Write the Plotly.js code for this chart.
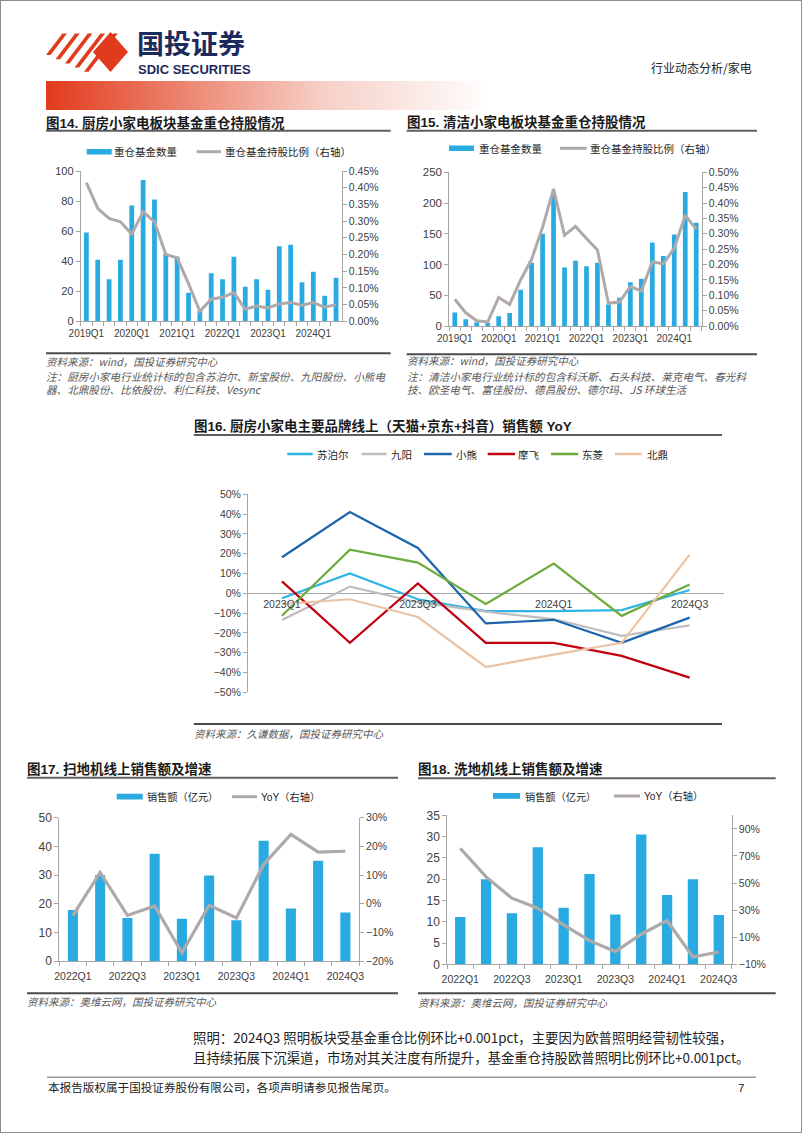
<!DOCTYPE html>
<html><head><meta charset="utf-8">
<script src="https://cdn.plot.ly/plotly-3.0.1.min.js"></script>
<style>
html,body{margin:0;padding:0;background:#fff;}
#page{position:relative;width:802px;height:1133px;overflow:hidden;background:#fff;}
#band{position:absolute;left:46px;top:81px;width:445px;height:29px;background:linear-gradient(to right,#E23A1C 0%,#EC8A75 33%,#F6CFC6 62%,#FFFFFF 100%);}
#chart{position:absolute;left:0;top:0;width:802px;height:1133px;}
#frame{position:absolute;left:0;top:0;width:800px;height:1131px;border:1px solid #8c8c8c;pointer-events:none;}
</style></head><body>
<div id="page"><div id="band"></div><div id="chart"></div><div id="frame"></div></div>
<script>
// ---------------- data ----------------
const quarters19 = ['2019Q1','2019Q2','2019Q3','2019Q4','2020Q1','2020Q2','2020Q3','2020Q4','2021Q1','2021Q2','2021Q3','2021Q4','2022Q1','2022Q2','2022Q3','2022Q4','2023Q1','2023Q2','2023Q3','2023Q4','2024Q1','2024Q2','2024Q3'];
const ticks19 = ['2019Q1','2020Q1','2021Q1','2022Q1','2023Q1','2024Q1'];
const fundCount14 = [59,41,28,41,77,94,81,45,43,19,7,32,28,43,23,28,21,50,51,26,33,17,29];
const holdPct14 = [0.415,0.338,0.308,0.298,0.261,0.328,0.298,0.200,0.190,0.113,0.030,0.066,0.072,0.086,0.036,0.046,0.040,0.052,0.056,0.048,0.056,0.042,0.050];
const fundCount15 = [22,11,6,5,16,21,59,103,150,214,95,106,97,103,35,46,71,77,136,114,149,218,168];
const holdPct15 = [0.087,0.043,0.017,0.013,0.093,0.070,0.150,0.217,0.321,0.446,0.295,0.324,0.285,0.247,0.074,0.078,0.128,0.114,0.209,0.202,0.253,0.360,0.315];

const quarters23 = ['2023Q1','2023Q2','2023Q3','2023Q4','2024Q1','2024Q2','2024Q3'];
const ticks23 = ['2023Q1','2023Q3','2024Q1','2024Q3'];
const brands16 = ['苏泊尔','九阳','小熊','摩飞','东菱','北鼎'];
const yoySupor = [-2.5,10,-3,-9,-9,-8.5,1.7];
const yoyJoyoung = [-13.5,3.4,-4.5,-9.3,-13,-21.5,-16.2];
const yoyBear = [18.2,41,22.9,-15.2,-13.4,-25,-12.3];
const yoyMorphy = [6,-25,5,-25,-25,-31.6,-42.6];
const yoyDonlim = [-11.3,22,15.5,-5.4,15,-11.4,4.5];
const yoyBuydeem = [-5.4,-3,-12,-37.2,-31,-25,19.5];

const quarters22 = ['2022Q1','2022Q2','2022Q3','2022Q4','2023Q1','2023Q2','2023Q3','2023Q4','2024Q1','2024Q2','2024Q3'];
const ticks22 = ['2022Q1','2022Q3','2023Q1','2023Q3','2024Q1','2024Q3'];
const sales17 = [17.8,30,15,37.4,14.7,29.8,14.2,42,18.3,35,16.9];
const yoy17 = [-4.1,10.9,-4.1,-0.8,-17.1,-0.6,-5,13.7,24.2,18,18.3];
const sales18 = [11.1,20,12,27.5,13.3,21.2,11.7,30.5,16.3,20,11.6];
const yoy18 = [75.7,54.5,38.8,31.4,19.1,7.5,-0.6,12.2,22.3,-4.6,-0.9];
const ticks18Right = [-10,10,30,50,70,90];

// ---------------- helpers ----------------
const W=802,H=1133;
const px=x=>x/W, py=y=>1-y/H;
const CJK="'Noto Sans CJK SC','Noto Sans CJK JP',sans-serif";
const LAT="'Liberation Sans',Arial,'Noto Sans CJK SC',sans-serif";
const BAR='#29ABE2', GREY='#B0A9A9', AX='#A6A6A6', TXT='#404040';
const annotations=[], shapes=[];
function txt(t,x,y,size,o={}){
  annotations.push({text:t,x:px(x),y:py(y),xref:'paper',yref:'paper',xanchor:o.xa||'left',yanchor:'middle',showarrow:false,borderpad:0,
    font:{family:o.family||LAT,size:size,color:o.color||'#262626',weight:o.weight||'normal',style:o.style||'normal'}});
}
function hline(x0,x1,y,color,w){shapes.push({type:'line',xref:'paper',yref:'paper',x0:px(x0),x1:px(x1),y0:py(y),y1:py(y),line:{color:color,width:w}});}
function rect(x0,y0,x1,y1,fill){shapes.push({type:'rect',xref:'paper',yref:'paper',x0:px(x0),x1:px(x1),y0:py(y1),y1:py(y0),fillcolor:fill,line:{width:0}});}
function poly(pts,fill){
  const d=pts.map((p,i)=>(i?'L':'M')+px(p[0]).toFixed(5)+','+py(p[1]).toFixed(5)).join(' ')+' Z';
  shapes.push({type:'path',xref:'paper',yref:'paper',path:d,fillcolor:fill,line:{width:0}});
}
const base={showgrid:false,zeroline:false,fixedrange:true,showline:true,linecolor:AX,linewidth:1,ticks:'outside',ticklen:4,tickcolor:AX,tickwidth:1};
function catX(x0,x1,anchor,cats,labels,size,standoff){
  return Object.assign({},base,{domain:[px(x0),px(x1)],anchor:anchor,type:'category',tickson:'boundaries',tickmode:'array',
    tickvals:cats,ticktext:cats.map(c=>labels.includes(c)?c:''),range:[-0.5,cats.length-0.5],tickangle:0,ticklabelstandoff:standoff,
    tickfont:{family:LAT,size:size,color:TXT}});
}
function yAx(yb,yt,anchor,range,dtick,size,extra){
  return Object.assign({},base,{domain:[py(yb),py(yt)],anchor:anchor,range:range,dtick:dtick,tick0:0,
    tickfont:{family:LAT,size:size,color:TXT}},extra||{});
}

// ---------------- header ----------------
const RED='#E23A1C';
poly([[93,52],[110.5,32],[128,52],[110.5,72]],RED);
for(let k=0;k<5;k++){
  const bx=46+9.5*k, by=55+4.2*k, dy=by-33.5, dx=dy*16/21;
  poly([[bx,by],[bx+4.6,by],[bx+4.6+dx,by-dy],[bx+dx,by-dy]],RED);
}
txt('国投证券',136,42.5,27,{family:CJK,weight:'bold',color:'#1D2A5C'});
txt('SDIC SECURITIES',137,69.5,13,{family:LAT,weight:'bold',color:'#1D2A5C'});
txt('行业动态分析/家电',650,68,12,{family:CJK,color:'#222'});

// ---------------- chart 14 ----------------
txt('图14. 厨房小家电板块基金重仓持股情况',45,122.7,13.5,{weight:'bold',color:'#1a1a1a'});
hline(46,390.7,130.7,'#5E5E5E',2);
rect(86.7,149,111.7,154.5,BAR); txt('重仓基金数量',113,151.7,10.5,{family:CJK});
hline(196.7,221,151.7,GREY,3); txt('重仓基金持股比例（右轴）',224,151.7,10.5,{family:CJK});
hline(46,390.7,353.3,'#4A4A4A',2);
txt('资料来源：wind，国投证券研究中心',45,361.7,10.5,{family:CJK,style:'italic',color:'#595959'});
txt('注：厨房小家电行业统计标的包含苏泊尔、新宝股份、九阳股份、小熊电',45,376.7,10.6,{family:CJK,style:'italic',color:'#595959'});
txt('器、北鼎股份、比依股份、利仁科技、Vesync',45,389.3,10.6,{family:CJK,style:'italic',color:'#595959'});

// ---------------- chart 15 ----------------
txt('图15. 清洁小家电板块基金重仓持股情况',405.5,121.7,13.5,{weight:'bold',color:'#1a1a1a'});
hline(406.7,757,130.7,'#5E5E5E',2);
rect(449,145.5,474,151,BAR); txt('重仓基金数量',477.5,148.3,10.5,{family:CJK});
hline(560,586.7,148.3,GREY,3); txt('重仓基金持股比例（右轴）',589,148.3,10.5,{family:CJK});
hline(406.7,757,354.3,'#4A4A4A',2);
txt('资料来源：wind，国投证券研究中心',405.5,360.7,10.5,{family:CJK,style:'italic',color:'#595959'});
txt('注：清洁小家电行业统计标的包含科沃斯、石头科技、莱克电气、春光科',405.5,376.7,10.6,{family:CJK,style:'italic',color:'#595959'});
txt('技、欧圣电气、富佳股份、德昌股份、德尔玛、JS 环球生活',405.5,389.8,10.6,{family:CJK,style:'italic',color:'#595959'});

// ---------------- chart 16 ----------------
txt('图16. 厨房小家电主要品牌线上（天猫+京东+抖音）销售额 YoY',192.5,426,13.5,{weight:'bold',color:'#1a1a1a'});
hline(193.8,722,435,'#5E5E5E',2);
const brandColors=['#2FB4E6','#BEBEBE','#1C64AC','#C0000F','#6CAB3C','#EBC3A3'];
const legX16=[[287.3,312.7,316],[361.7,386.7,390],[424,451.7,454.5],[487.7,515,517],[551,578.3,581],[615,641.7,645.5]];
brands16.forEach((b,i)=>{hline(legX16[i][0],legX16[i][1],454,brandColors[i],2.5);txt(b,legX16[i][2],454,10.5,{family:CJK});});
hline(193.8,722,724,'#4A4A4A',2);
txt('资料来源：久谦数据，国投证券研究中心',192.5,733.3,10.5,{family:CJK,style:'italic',color:'#595959'});

// ---------------- chart 17 ----------------
txt('图17. 扫地机线上销售额及增速',26,769,13.5,{weight:'bold',color:'#1a1a1a'});
hline(27,398,777.7,'#5E5E5E',2);
rect(116.7,793.7,142.7,799.5,BAR); txt('销售额（亿元）',145.5,796.7,10.2,{family:CJK});
hline(232,257,796.7,GREY,3); txt('YoY（右轴）',259.5,796.7,10.2,{family:LAT});
hline(27,398,993.3,'#4A4A4A',2);
txt('资料来源：奥维云网，国投证券研究中心',26,1001.7,10.5,{family:CJK,style:'italic',color:'#595959'});

// ---------------- chart 18 ----------------
txt('图18. 洗地机线上销售额及增速',417,769,13.5,{weight:'bold',color:'#1a1a1a'});
hline(418,775.7,778.3,'#5E5E5E',2);
rect(493,793,520,798.8,BAR); txt('销售额（亿元）',523.5,796,10.2,{family:CJK});
hline(614,640,796,GREY,3); txt('YoY（右轴）',642.5,796,10.2,{family:LAT});
hline(418,775.7,993.3,'#4A4A4A',2);
txt('资料来源：奥维云网，国投证券研究中心',417,1002,10.5,{family:CJK,style:'italic',color:'#595959'});

// ---------------- text & footer ----------------
txt('照明：2024Q3 照明板块受基金重仓比例环比+0.001pct，主要因为欧普照明经营韧性较强，',192,1037,13.4,{family:CJK,color:'#222'});
txt('且持续拓展下沉渠道，市场对其关注度有所提升，基金重仓持股欧普照明比例环比+0.001pct。',192,1057,13.4,{family:CJK,color:'#222'});
hline(47,756,1077.3,'#9A9A9A',1.5);
txt('本报告版权属于国投证券股份有限公司，各项声明请参见报告尾页。',46.5,1087,11.6,{family:CJK,color:'#222'});
txt('7',741,1087,11.6,{family:LAT,color:'#222',xa:'center'});

// ---------------- traces ----------------
const traces=[
  {type:'bar',x:quarters19,y:fundCount14,xaxis:'x',yaxis:'y',marker:{color:BAR},width:0.42,name:'重仓基金数量'},
  {type:'scatter',mode:'lines',x:quarters19,y:holdPct14,xaxis:'x',yaxis:'y2',line:{color:GREY,width:3},name:'重仓基金持股比例（右轴）'},
  {type:'bar',x:quarters19,y:fundCount15,xaxis:'x2',yaxis:'y3',marker:{color:BAR},width:0.43,name:'重仓基金数量'},
  {type:'scatter',mode:'lines',x:quarters19,y:holdPct15,xaxis:'x2',yaxis:'y4',line:{color:GREY,width:3},name:'重仓基金持股比例（右轴）'}
];
[yoySupor,yoyJoyoung,yoyBear,yoyMorphy,yoyDonlim,yoyBuydeem].forEach((s,i)=>{
  traces.push({type:'scatter',mode:'lines',x:quarters23,y:s,xaxis:'x3',yaxis:'y5',line:{color:brandColors[i],width:2.2},name:brands16[i]});
});
traces.push(
  {type:'bar',x:quarters22,y:sales17,xaxis:'x4',yaxis:'y6',marker:{color:BAR},width:0.37,name:'销售额（亿元）'},
  {type:'scatter',mode:'lines',x:quarters22,y:yoy17,xaxis:'x4',yaxis:'y7',line:{color:GREY,width:3.2},name:'YoY（右轴）'},
  {type:'bar',x:quarters22,y:sales18,xaxis:'x5',yaxis:'y8',marker:{color:BAR},width:0.4,name:'销售额（亿元）'},
  {type:'scatter',mode:'lines',x:quarters22,y:yoy18,xaxis:'x5',yaxis:'y9',line:{color:GREY,width:3.2},name:'YoY（右轴）'}
);

const zero16 = (py(692.3)+py(494.3))/2;
const layout={
  width:W,height:H,margin:{l:0,r:0,t:0,b:0},autosize:false,showlegend:false,
  paper_bgcolor:'rgba(0,0,0,0)',plot_bgcolor:'rgba(0,0,0,0)',
  xaxis:catX(80.7,341.7,'y',quarters19,ticks19,10,3),
  yaxis:yAx(321.3,171,'x',[0,100],20,11),
  yaxis2:yAx(321.3,171,'x',[0,0.45],0.05,10.5,{overlaying:'y',side:'right',tickformat:'.2f',ticksuffix:'%'}),
  xaxis2:catX(449.3,701.7,'y3',quarters19,ticks19,10,3),
  yaxis3:yAx(326,172.3,'x2',[0,250],50,11.5),
  yaxis4:yAx(326,172.3,'x2',[0,0.5],0.05,10.5,{overlaying:'y3',side:'right',tickformat:'.2f',ticksuffix:'%'}),
  xaxis3:{domain:[px(248),px(723.6)],anchor:'free',position:zero16,type:'category',range:[-0.5,6.5],showline:false,ticks:'',
    tickmode:'array',tickvals:ticks23,ticktext:ticks23,tickangle:0,showgrid:false,zeroline:false,fixedrange:true,ticklabelstandoff:3,
    tickfont:{family:LAT,size:10.5,color:TXT}},
  yaxis5:yAx(692.3,494.3,'x3',[-50,50],10,10.5,{ticksuffix:'%',zeroline:true,zerolinecolor:AX,zerolinewidth:1}),
  xaxis4:catX(59.3,359,'y6',quarters22,ticks22,10.5,5),
  yaxis6:yAx(961,817.7,'x4',[0,50],10,12),
  yaxis7:yAx(961,817.7,'x4',[-20,30],10,10.5,{overlaying:'y6',side:'right',ticksuffix:'%'}),
  xaxis5:catX(447.3,731.7,'y8',quarters22,ticks22,10.5,5),
  yaxis8:yAx(964.3,815.3,'x5',[0,35],5,12),
  yaxis9:yAx(964.3,815.3,'x5',[-10,100],20,10.5,{overlaying:'y8',side:'right',tickmode:'array',tickvals:ticks18Right,
    ticktext:ticks18Right.map(v=>(v<0?'\u2212'+Math.abs(v):v)+'%')}),
  annotations:annotations,shapes:shapes
};
Plotly.newPlot('chart',traces,layout,{staticPlot:true,displayModeBar:false});
</script>
</body></html>
